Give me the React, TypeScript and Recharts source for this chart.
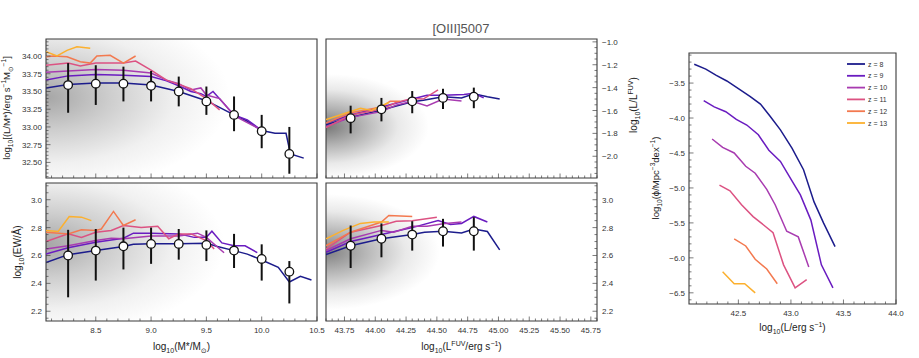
import React from 'react';
import { ComposedChart, Line, Scatter, XAxis, YAxis, ErrorBar, ReferenceArea } from 'recharts';

const FONT = '"Liberation Sans", Arial, "DejaVu Sans", sans-serif';

// ---------- redshift series ----------
const redshiftLabels = ['z = 8', 'z = 9', 'z = 10', 'z = 11', 'z = 12', 'z = 13'];
const zColors = ['#1c1c8c', '#6a1cc0', '#a83bb0', '#dc5282', '#f3794f', '#fcb02e'];

// ---------- panel 1: log10(L/M*) vs log10(M*) ----------
const massBins = [8.25, 8.5, 8.75, 9.0, 9.25, 9.5, 9.75, 10.0, 10.25];
const lmMedian = [33.59, 33.61, 33.61, 33.58, 33.5, 33.36, 33.17, 32.94, 32.62];
const lmLow = [33.2, 33.31, 33.36, 33.36, 33.29, 33.17, 32.94, 32.7, 32.34];
const lmHigh = [33.9, 33.87, 33.85, 33.79, 33.71, 33.57, 33.43, 33.17, 33.0];

const lmZ8x = [8.05, 8.25, 8.5, 8.75, 9.0, 9.25, 9.5, 9.75, 9.87, 10.0, 10.12, 10.22, 10.26, 10.38];
const lmZ8y = [33.55, 33.6, 33.62, 33.62, 33.59, 33.5, 33.37, 33.17, 33.08, 32.95, 32.91, 32.91, 32.62, 32.56];
const lmZ9x = [8.05, 8.25, 8.5, 8.75, 9.0, 9.14, 9.25, 9.36, 9.45, 9.5, 9.56, 9.75, 9.87, 10.0];
const lmZ9y = [33.66, 33.72, 33.74, 33.73, 33.71, 33.65, 33.58, 33.5, 33.47, 33.43, 33.5, 33.17, 33.1, 32.95];
const lmZ10x = [8.05, 8.25, 8.5, 8.75, 9.0, 9.14, 9.25, 9.36, 9.45, 9.5, 9.62, 9.75, 9.97];
const lmZ10y = [33.77, 33.79, 33.81, 33.8, 33.76, 33.66, 33.61, 33.52, 33.55, 33.45, 33.4, 33.16, 32.98];
const lmZ11x = [8.05, 8.25, 8.36, 8.5, 8.75, 8.86, 9.0, 9.14, 9.25, 9.36, 9.5, 9.62];
const lmZ11y = [33.87, 33.9, 33.86, 33.9, 33.9, 33.93, 33.8, 33.66, 33.6, 33.54, 33.4, 33.24];
const lmZ12x = [8.05, 8.12, 8.24, 8.36, 8.45, 8.51, 8.63, 8.75, 8.86];
const lmZ12y = [33.99, 34.0, 33.99, 33.92, 33.9, 34.0, 34.01, 33.9, 34.0];
const lmZ13x = [8.05, 8.15, 8.24, 8.33, 8.45];
const lmZ13y = [34.06, 34.0, 34.08, 34.13, 34.11];

// ---------- panel 2: log10(L/L_FUV) vs log10(L_FUV) ----------
const fuvBins = [43.8, 44.05, 44.3, 44.55, 44.8];
const lfMedian = [-1.667, -1.59, -1.52, -1.49, -1.48];
const lfLow = [-1.8, -1.695, -1.624, -1.587, -1.58];
const lfHigh = [-1.558, -1.49, -1.43, -1.41, -1.4];

const lfZ8x = [43.6, 43.8, 44.05, 44.3, 44.39, 44.55, 44.7, 44.8, 44.91, 45.01];
const lfZ8y = [-1.724, -1.66, -1.596, -1.524, -1.51, -1.48, -1.49, -1.453, -1.48, -1.5];
const lfZ9x = [43.6, 43.8, 44.05, 44.3, 44.42, 44.55, 44.72, 44.8, 44.88];
const lfZ9y = [-1.71, -1.64, -1.57, -1.5, -1.467, -1.467, -1.46, -1.45, -1.49];
const lfZ10x = [43.6, 43.8, 44.05, 44.17, 44.3, 44.42, 44.55, 44.7];
const lfZ10y = [-1.74, -1.66, -1.61, -1.553, -1.52, -1.56, -1.5, -1.516];
const lfZ11x = [43.6, 43.8, 44.05, 44.17, 44.3, 44.39, 44.51];
const lfZ11y = [-1.75, -1.64, -1.59, -1.53, -1.496, -1.5, -1.42];
const lfZ12x = [43.6, 43.8, 44.05, 44.12, 44.2];
const lfZ12y = [-1.71, -1.62, -1.57, -1.52, -1.52];
const lfZ13x = [43.6, 43.88, 43.97, 44.11];
const lfZ13y = [-1.68, -1.58, -1.6, -1.53];

// ---------- panel 3: log10(EW) vs log10(M*) ----------
const ewmMedian = [2.6, 2.635, 2.666, 2.683, 2.683, 2.676, 2.635, 2.575, 2.484];
const ewmLow = [2.3, 2.42, 2.5, 2.54, 2.57, 2.56, 2.51, 2.42, 2.256];
const ewmHigh = [2.784, 2.79, 2.8, 2.8, 2.79, 2.78, 2.755, 2.68, 2.56];

const ewmZ8x = [8.05, 8.25, 8.5, 8.75, 8.84, 9.0, 9.25, 9.5, 9.6, 9.75, 9.87, 10.0, 10.15, 10.25, 10.35, 10.45];
const ewmZ8y = [2.55, 2.606, 2.635, 2.664, 2.68, 2.684, 2.684, 2.688, 2.664, 2.635, 2.61, 2.568, 2.515, 2.41, 2.45, 2.424];
const ewmZ9x = [8.05, 8.25, 8.5, 8.75, 8.84, 9.0, 9.25, 9.39, 9.5, 9.55, 9.64, 9.75, 9.85, 9.96];
const ewmZ9y = [2.61, 2.655, 2.695, 2.724, 2.76, 2.76, 2.755, 2.73, 2.73, 2.774, 2.69, 2.67, 2.67, 2.62];
const ewmZ10x = [8.05, 8.25, 8.5, 8.64, 8.75, 9.0, 9.25, 9.42, 9.5, 9.66];
const ewmZ10y = [2.647, 2.67, 2.707, 2.724, 2.72, 2.74, 2.74, 2.76, 2.73, 2.62];
const ewmZ11x = [8.05, 8.25, 8.37, 8.5, 8.64, 8.75, 8.91, 9.06, 9.16, 9.25, 9.36, 9.5, 9.57];
const ewmZ11y = [2.7, 2.755, 2.73, 2.767, 2.78, 2.815, 2.8, 2.81, 2.72, 2.755, 2.755, 2.707, 2.647];
const ewmZ12x = [8.05, 8.25, 8.37, 8.5, 8.55, 8.66, 8.75, 8.86];
const ewmZ12y = [2.767, 2.755, 2.784, 2.78, 2.79, 2.916, 2.815, 2.856];
const ewmZ13x = [8.05, 8.16, 8.26, 8.37, 8.46];
const ewmZ13y = [2.78, 2.772, 2.88, 2.875, 2.85];

// ---------- panel 4: log10(EW) vs log10(L_FUV) ----------
const ewfMedian = [2.67, 2.72, 2.75, 2.774, 2.774];
const ewfLow = [2.51, 2.587, 2.635, 2.664, 2.635];
const ewfHigh = [2.815, 2.83, 2.846, 2.863, 2.875];

const ewfZ8x = [43.6, 43.8, 44.05, 44.3, 44.4, 44.55, 44.7, 44.8, 44.91, 45.01];
const ewfZ8y = [2.606, 2.67, 2.72, 2.75, 2.767, 2.774, 2.762, 2.79, 2.772, 2.64];
const ewfZ9x = [43.6, 43.8, 44.05, 44.3, 44.51, 44.61, 44.7, 44.8, 44.91];
const ewfZ9y = [2.623, 2.7, 2.75, 2.8, 2.85, 2.822, 2.83, 2.88, 2.84];
const ewfZ10x = [43.6, 43.8, 44.05, 44.15, 44.3, 44.42, 44.55, 44.7];
const ewfZ10y = [2.635, 2.72, 2.78, 2.767, 2.81, 2.81, 2.827, 2.84];
const ewfZ11x = [43.6, 43.8, 44.05, 44.17, 44.3, 44.5];
const ewfZ11y = [2.647, 2.767, 2.815, 2.846, 2.85, 2.875];
const ewfZ12x = [43.6, 43.8, 44.05, 44.11, 44.3];
const ewfZ12y = [2.67, 2.767, 2.84, 2.887, 2.88];
const ewfZ13x = [43.6, 43.74, 43.88, 43.99, 44.11];
const ewfZ13y = [2.72, 2.78, 2.83, 2.84, 2.84];

// ---------- panel 5: luminosity function ----------
const lfnZ8x = [42.08, 42.19, 42.29, 42.39, 42.5, 42.61, 42.71, 42.8, 42.9, 43.01, 43.12, 43.22, 43.31, 43.42];
const lfnZ8y = [-3.23, -3.3, -3.39, -3.47, -3.58, -3.69, -3.8, -3.97, -4.17, -4.43, -4.74, -5.2, -5.5, -5.84];
const lfnZ9x = [42.17, 42.27, 42.38, 42.48, 42.58, 42.69, 42.79, 42.9, 43.01, 43.09, 43.19, 43.29, 43.4];
const lfnZ9y = [-3.75, -3.84, -3.91, -4.02, -4.1, -4.24, -4.46, -4.62, -4.9, -5.1, -5.46, -6.1, -6.43];
const lfnZ10x = [42.25, 42.35, 42.46, 42.57, 42.66, 42.77, 42.85, 42.96, 43.07, 43.17];
const lfnZ10y = [-4.3, -4.42, -4.5, -4.69, -4.79, -5.02, -5.24, -5.62, -5.7, -6.13];
const lfnZ11x = [42.32, 42.42, 42.53, 42.64, 42.74, 42.83, 42.93, 43.04, 43.15];
const lfnZ11y = [-4.96, -5.04, -5.24, -5.41, -5.53, -5.64, -6.1, -6.43, -6.31];
const lfnZ12x = [42.46, 42.57, 42.66, 42.77, 42.87];
const lfnZ12y = [-5.73, -5.83, -6.02, -6.16, -6.37];
const lfnZ13x = [42.35, 42.46, 42.56, 42.66];
const lfnZ13y = [-6.2, -6.37, -6.37, -6.5];

// ---------- tick labels ----------
const massMajor = [8.5, 9.0, 9.5, 10.0, 10.5];
const fuvMajor = [43.75, 44.0, 44.25, 44.5, 44.75, 45.0, 45.25, 45.5, 45.75];
const lmMajor = [32.5, 32.75, 33.0, 33.25, 33.5, 33.75, 34.0];
const lfMajor = [-2.0, -1.8, -1.6, -1.4, -1.2, -1.0];
const ewMajor = [2.2, 2.4, 2.6, 2.8, 3.0];
const lumMajor = [42.5, 43.0, 43.5, 44.0];
const phiMajor = [-6.5, -6.0, -5.5, -5.0, -4.5, -4.0, -3.5];

function range(a: number, b: number, step: number) {
  const out: number[] = [];
  const n = Math.round((b - a) / step);
  for (let i = 0; i <= n; i++) out.push(+(a + i * step).toFixed(4));
  return out;
}

const pairs = (xs: number[], ys: number[]) => xs.map((x, i) => ({ x, y: ys[i] }));
const errPts = (xs: number[], med: number[], lo: number[], hi: number[]) =>
  xs.map((x, i) => ({ x, y: med[i], err: [med[i] - lo[i], hi[i] - med[i]] }));

type Side = 'bottom' | 'left' | 'right';
function makeTick(side: Side, majors: number[], showLabels: boolean, dec: number) {
  return (p: any) => {
    const { x, y, payload } = p;
    const v = Number(payload.value);
    const major = majors.some((m) => Math.abs(m - v) < 1e-6);
    const len = major ? 4.5 : 2.5;
    const txt = v.toFixed(dec).replace('-', '\u2212');
    const ts = { fontSize: 8, fontFamily: FONT, fill: '#333' };
    const lab = major && showLabels;
    if (side === 'bottom')
      return (
        <g>
          <line x1={x} x2={x} y1={y} y2={y - len} stroke="#444" strokeWidth={0.7} />
          {lab ? <text x={x} y={y + 12} textAnchor="middle" {...ts}>{txt}</text> : null}
        </g>
      );
    if (side === 'left')
      return (
        <g>
          <line x1={x} x2={x + len} y1={y} y2={y} stroke="#444" strokeWidth={0.7} />
          {lab ? <text x={x - 4} y={y + 3} textAnchor="end" {...ts}>{txt}</text> : null}
        </g>
      );
    return (
      <g>
        <line x1={x} x2={x - len} y1={y} y2={y} stroke="#444" strokeWidth={0.7} />
        {lab ? <text x={x + 5} y={y + 3} textAnchor="start" {...ts}>{txt}</text> : null}
      </g>
    );
  };
}

const pointShape = (p: any) => <circle cx={p.cx} cy={p.cy} r={4.3} fill="#fff" stroke="#111" strokeWidth={1.3} />;

type PanelProps = {
  box: [number, number, number, number];
  xDomain: [number, number];
  yDomain: [number, number];
  xTicks: number[];
  xMajors: number[];
  xLabels: boolean;
  xDec: number;
  yTicks: number[];
  yMajors: number[];
  yDec: number;
  ySide: 'left' | 'right';
  fill: string;
  lines: { x: number[]; y: number[]; color: string }[];
  points?: { x: number[]; med: number[]; lo: number[]; hi: number[] };
};

const M = 10;
const YW = 40;
const XH = 24;

function Panel(pp: PanelProps) {
  const [l, t, r, b] = pp.box;
  const left = l - M - (pp.ySide === 'left' ? YW : 0);
  const top = t - M;
  const W = M + YW + (r - l) + M;
  const H = M + (b - t) + XH;
  return (
    <div style={{ position: 'absolute', left, top, width: W, height: H }}>
      <ComposedChart width={W} height={H} margin={{ top: M, right: M, bottom: 0, left: M }}>
        <XAxis
          type="number"
          dataKey="x"
          domain={pp.xDomain}
          allowDataOverflow
          ticks={pp.xTicks}
          interval={0}
          tickLine={false}
          axisLine={false}
          tickSize={0}
          tickMargin={0}
          height={XH}
          tick={makeTick('bottom', pp.xMajors, pp.xLabels, pp.xDec)}
        />
        <YAxis
          type="number"
          dataKey="y"
          orientation={pp.ySide}
          domain={pp.yDomain}
          allowDataOverflow
          ticks={pp.yTicks}
          interval={0}
          tickLine={false}
          axisLine={false}
          tickSize={0}
          tickMargin={0}
          width={YW}
          tick={makeTick(pp.ySide, pp.yMajors, true, pp.yDec)}
        />
        <ReferenceArea
          x1={pp.xDomain[0]}
          x2={pp.xDomain[1]}
          y1={pp.yDomain[0]}
          y2={pp.yDomain[1]}
          fill={pp.fill}
          fillOpacity={1}
          stroke="#3a3a3a"
          strokeWidth={1.1}
        />
        {pp.lines.map((ln, i) => (
          <Line
            key={i}
            data={pairs(ln.x, ln.y)}
            dataKey="y"
            type="linear"
            stroke={ln.color}
            strokeWidth={1.5}
            dot={false}
            isAnimationActive={false}
          />
        ))}
        {pp.points ? (
          <Scatter
            data={errPts(pp.points.x, pp.points.med, pp.points.lo, pp.points.hi)}
            dataKey="y"
            shape={pointShape}
            isAnimationActive={false}
          >
            <ErrorBar dataKey="err" direction="y" width={0} stroke="#111" strokeWidth={2} isAnimationActive={false} />
          </Scatter>
        ) : null}
      </ComposedChart>
    </div>
  );
}

type Seg = [string, 'n' | 'sub' | 'sup'];
function MathText(props: { x: number; y: number; size: number; rotate?: number; segs: Seg[]; fill?: string; anchor?: string }) {
  const { x, y, size, rotate, segs } = props;
  let cur = 0;
  const kids = segs.map(([t, k], i) => {
    const target = k === 'sub' ? size * 0.3 : k === 'sup' ? -size * 0.42 : 0;
    const dy = target - cur;
    cur = target;
    return (
      <tspan key={i} dy={dy} fontSize={k === 'n' ? size : size * 0.7}>
        {t}
      </tspan>
    );
  });
  return (
    <text
      x={x}
      y={y}
      textAnchor={(props.anchor as any) || 'middle'}
      fontSize={size}
      fontFamily={FONT}
      fill={props.fill || '#222'}
      transform={rotate ? `rotate(${rotate} ${x} ${y})` : undefined}
    >
      {kids}
    </text>
  );
}

const lineSet = (xs: number[][], ys: number[][]) => xs.map((x, i) => ({ x, y: ys[i], color: zColors[i] }));

function Grad(props: { id: string; cy: number; r: number; c0: string; a0: number; a1: number; a2: number }) {
  return (
    <radialGradient id={props.id} cx="0" cy={props.cy} r={props.r} fx="0" fy={props.cy}>
      <stop offset="0" stopColor={props.c0} stopOpacity={props.a0} />
      <stop offset="0.35" stopColor={props.c0} stopOpacity={props.a1} />
      <stop offset="0.7" stopColor={props.c0} stopOpacity={props.a2} />
      <stop offset="1" stopColor={props.c0} stopOpacity={0} />
    </radialGradient>
  );
}

export default function App() {
  const massTicks = range(8.1, 10.5, 0.1);
  const fuvTicks = range(43.6, 45.8, 0.05);
  const lumTicks = range(42.1, 44.0, 0.1);
  return (
    <div style={{ position: 'absolute', left: 0, top: 0, width: 919, height: 358, background: '#fff', overflow: 'hidden' }}>
      <svg width={0} height={0} style={{ position: 'absolute' }}>
        <defs>
          <Grad id="gTL" cy={0.42} r={0.68} c0="#6a6a6a" a0={0.6} a1={0.33} a2={0.1} />
          <Grad id="gTM" cy={0.63} r={0.38} c0="#4a4a4a" a0={0.75} a1={0.42} a2={0.12} />
          <Grad id="gBL" cy={0.45} r={0.66} c0="#6a6a6a" a0={0.6} a1={0.33} a2={0.1} />
          <Grad id="gBM" cy={0.5} r={0.42} c0="#4a4a4a" a0={0.7} a1={0.4} a2={0.12} />
        </defs>
      </svg>

      <Panel
        box={[46, 39, 317, 178]}
        xDomain={[8.05, 10.5]}
        yDomain={[32.28, 34.24]}
        xTicks={massTicks}
        xMajors={massMajor}
        xLabels={false}
        xDec={1}
        yTicks={range(32.3, 34.2, 0.05)}
        yMajors={lmMajor}
        yDec={2}
        ySide="left"
        fill="url(#gTL)"
        lines={lineSet([lmZ8x, lmZ9x, lmZ10x, lmZ11x, lmZ12x, lmZ13x], [lmZ8y, lmZ9y, lmZ10y, lmZ11y, lmZ12y, lmZ13y])}
        points={{ x: massBins, med: lmMedian, lo: lmLow, hi: lmHigh }}
      />
      <Panel
        box={[326, 39, 597, 178]}
        xDomain={[43.6, 45.8]}
        yDomain={[-2.19, -0.975]}
        xTicks={fuvTicks}
        xMajors={fuvMajor}
        xLabels={false}
        xDec={2}
        yTicks={range(-2.15, -1.0, 0.05)}
        yMajors={lfMajor}
        yDec={1}
        ySide="right"
        fill="url(#gTM)"
        lines={lineSet([lfZ8x, lfZ9x, lfZ10x, lfZ11x, lfZ12x, lfZ13x], [lfZ8y, lfZ9y, lfZ10y, lfZ11y, lfZ12y, lfZ13y])}
        points={{ x: fuvBins, med: lfMedian, lo: lfLow, hi: lfHigh }}
      />
      <Panel
        box={[46, 183, 317, 321]}
        xDomain={[8.05, 10.5]}
        yDomain={[2.13, 3.12]}
        xTicks={massTicks}
        xMajors={massMajor}
        xLabels={true}
        xDec={1}
        yTicks={range(2.15, 3.1, 0.05)}
        yMajors={ewMajor}
        yDec={1}
        ySide="left"
        fill="url(#gBL)"
        lines={lineSet([ewmZ8x, ewmZ9x, ewmZ10x, ewmZ11x, ewmZ12x, ewmZ13x], [ewmZ8y, ewmZ9y, ewmZ10y, ewmZ11y, ewmZ12y, ewmZ13y])}
        points={{ x: massBins, med: ewmMedian, lo: ewmLow, hi: ewmHigh }}
      />
      <Panel
        box={[326, 183, 597, 321]}
        xDomain={[43.6, 45.8]}
        yDomain={[2.13, 3.12]}
        xTicks={fuvTicks}
        xMajors={fuvMajor}
        xLabels={true}
        xDec={2}
        yTicks={range(2.15, 3.1, 0.05)}
        yMajors={ewMajor}
        yDec={1}
        ySide="right"
        fill="url(#gBM)"
        lines={lineSet([ewfZ8x, ewfZ9x, ewfZ10x, ewfZ11x, ewfZ12x, ewfZ13x], [ewfZ8y, ewfZ9y, ewfZ10y, ewfZ11y, ewfZ12y, ewfZ13y])}
        points={{ x: fuvBins, med: ewfMedian, lo: ewfLow, hi: ewfHigh }}
      />
      <Panel
        box={[689, 53, 896, 304]}
        xDomain={[42.03, 44.0]}
        yDomain={[-6.66, -3.07]}
        xTicks={lumTicks}
        xMajors={lumMajor}
        xLabels={true}
        xDec={1}
        yTicks={range(-6.6, -3.1, 0.1)}
        yMajors={phiMajor}
        yDec={1}
        ySide="left"
        fill="none"
        lines={lineSet([lfnZ8x, lfnZ9x, lfnZ10x, lfnZ11x, lfnZ12x, lfnZ13x], [lfnZ8y, lfnZ9y, lfnZ10y, lfnZ11y, lfnZ12y, lfnZ13y])}
      />

      <svg width={919} height={358} style={{ position: 'absolute', left: 0, top: 0, pointerEvents: 'none' }}>
        <text x={461} y={33} textAnchor="middle" fontSize={13} fontFamily={FONT} fill="#555">
          [OIII]5007
        </text>
        <MathText
          x={10}
          y={108}
          size={9.5}
          rotate={-90}
          segs={[['log', 'n'], ['10', 'sub'], ['[(L/M*)/erg s', 'n'], ['\u22121', 'sup'], ['M', 'n'], ['\u2299', 'sub'], ['\u22121', 'sup'], [']', 'n']]}
        />
        <MathText x={21} y={252} size={10} rotate={-90} segs={[['log', 'n'], ['10', 'sub'], ['(EW/\u00c5)', 'n']]} />
        <MathText
          x={637}
          y={105}
          size={10}
          rotate={-90}
          segs={[['log', 'n'], ['10', 'sub'], ['(L/L', 'n'], ['FUV', 'sup'], [')', 'n']]}
        />
        <MathText x={181.5} y={350} size={10} segs={[['log', 'n'], ['10', 'sub'], ['(M*/M', 'n'], ['\u2299', 'sub'], [')', 'n']]} />
        <MathText
          x={461.5}
          y={350}
          size={10}
          segs={[['log', 'n'], ['10', 'sub'], ['(L', 'n'], ['FUV', 'sup'], ['/erg s', 'n'], ['\u22121', 'sup'], [')', 'n']]}
        />
        <MathText x={792.5} y={331} size={10} segs={[['log', 'n'], ['10', 'sub'], ['(L/erg s', 'n'], ['\u22121', 'sup'], [')', 'n']]} />
        <MathText
          x={659}
          y={178}
          size={9.5}
          rotate={-90}
          segs={[['log', 'n'], ['10', 'sub'], ['(\u03d5/Mpc', 'n'], ['\u22123', 'sup'], ['dex', 'n'], ['\u22121', 'sup'], [')', 'n']]}
        />
        {redshiftLabels.map((lab, i) => (
          <g key={lab}>
            <line x1={847} x2={865} y1={64 + i * 11.8} y2={64 + i * 11.8} stroke={zColors[i]} strokeWidth={1.8} />
            <text x={868} y={64 + i * 11.8 + 2.6} fontSize={7} fontFamily={FONT} fill="#333">
              {lab}
            </text>
          </g>
        ))}
      </svg>
    </div>
  );
}
